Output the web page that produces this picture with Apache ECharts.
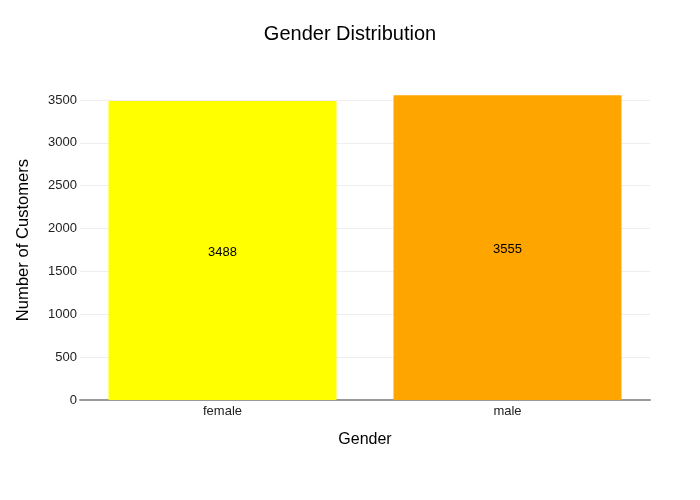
<!DOCTYPE html>
<html><head><meta charset="utf-8">
<script src="https://cdn.jsdelivr.net/npm/echarts@6/dist/echarts.min.js"></script>
<style>html,body{margin:0;padding:0;background:#fff}#c{width:700px;height:500px}</style>
</head><body><div id="c"></div>
<script>
const categories = ['female', 'male'];
const values = [3488, 3555];
const colors = ['#ffff00', '#ffa500'];
const yTicks = [0, 500, 1000, 1500, 2000, 2500, 3000, 3500];

const chart = echarts.init(document.getElementById('c'), null, {renderer: 'canvas'});
const font = 'Arial, "Liberation Sans", sans-serif';
chart.setOption({
  animation: false,
  backgroundColor: '#fff',
  title: {
    text: 'Gender Distribution', left: 'center', top: 19,
    textStyle: {fontFamily: font, fontSize: 20, fontWeight: 'normal', color: '#000'}
  },
  grid: {left: 80, right: 50, top: 80, bottom: 100, containLabel: false},
  xAxis: {
    type: 'category', data: categories,
    name: 'Gender', nameLocation: 'middle', nameGap: 32,
    nameTextStyle: {fontFamily: font, fontSize: 16, color: '#000'},
    axisLine: {lineStyle: {color: '#999', width: 2}},
    axisTick: {show: false},
    axisLabel: {fontFamily: font, fontSize: 13, color: '#222', margin: 5}
  },
  yAxis: {
    type: 'value', min: 0, max: 3733, interval: 500,
    name: 'Number of Customers', nameLocation: 'middle', nameGap: 48, nameRotate: 90,
    nameTextStyle: {fontFamily: font, fontSize: 16.6, color: '#000'},
    axisLine: {show: false}, axisTick: {show: false},
    splitLine: {showMaxLine: false, lineStyle: {color: '#eeeeee', width: 1}},
    axisLabel: {fontFamily: font, fontSize: 13, color: '#222', margin: 3,
      showMaxLabel: false,
      formatter: v => yTicks.includes(v) ? String(v) : ''}
  },
  series: [{
    type: 'bar', barCategoryGap: '20%',
    data: values.map((v, i) => ({value: v, itemStyle: {color: colors[i]}})),
    label: {show: true, position: 'inside', offset: [0, 2], fontFamily: font, fontSize: 13, color: '#000'}
  }]
});
</script></body></html>
